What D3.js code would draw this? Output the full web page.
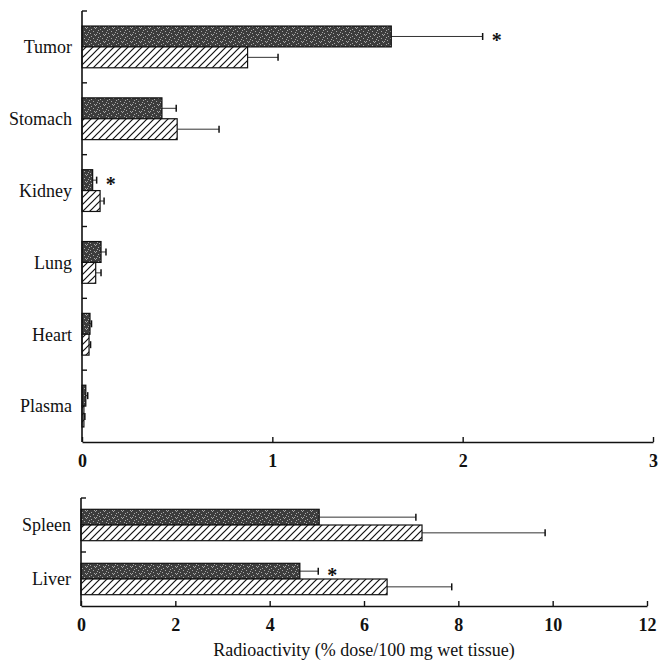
<!DOCTYPE html>
<html>
<head>
<meta charset="utf-8">
<script src="https://cdn.jsdelivr.net/npm/d3@7"></script>
<style>
    body { margin: 0; background: #fff; }
    svg { display: block; }
    text { font-family: "Liberation Serif", "DejaVu Serif", serif; fill: #111; }
</style>
</head>
<body>
<svg id="graphique" width="671" height="663"></svg>
<script>
"use strict";

// panneau du haut (echelle 0 - 3)
var organesHaut = ["Tumor", "Stomach", "Kidney", "Lung", "Heart", "Plasma"];
var moyenneSombreHaut = [1.625, 0.42, 0.056, 0.10, 0.042, 0.02];
var ecartSombreHaut = [0.48, 0.075, 0.021, 0.026, 0.008, 0.01];
var moyenneHachureHaut = [0.87, 0.50, 0.095, 0.072, 0.037, 0.01];
var ecartHachureHaut = [0.16, 0.22, 0.021, 0.028, 0.008, 0.005];
var etoileHaut = [true, false, true, false, false, false];
var graduationsHaut = [0, 1, 2, 3];

// panneau du bas (echelle 0 - 12)
var organesBas = ["Spleen", "Liver"];
var moyenneSombreBas = [5.05, 4.64];
var ecartSombreBas = [2.05, 0.39];
var moyenneHachureBas = [7.23, 6.49];
var ecartHachureBas = [2.61, 1.37];
var etoileBas = [false, true];
var graduationsBas = [0, 2, 4, 6, 8, 10, 12];

var titreAxe = "Radioactivity (% dose/100 mg wet tissue)";

var svg = d3.select("#graphique");

// motifs : grisé tacheté et hachures
var defs = svg.append("defs");
var motifSombre = defs.append("pattern").attr("id", "motifSombre")
    .attr("patternUnits", "userSpaceOnUse").attr("width", 9).attr("height", 7);
motifSombre.append("rect").attr("width", 9).attr("height", 7).attr("fill", "#3d3d3d");
[[1, 1], [5, 0], [3, 3], [7, 4], [0, 5], [4, 6], [8, 2], [6, 6]].forEach(function(p) {
    motifSombre.append("rect").attr("x", p[0]).attr("y", p[1])
        .attr("width", 1).attr("height", 1).attr("fill", "#a8a8a8");
});

var motifHachure = defs.append("pattern").attr("id", "motifHachure")
    .attr("patternUnits", "userSpaceOnUse").attr("width", 7).attr("height", 7);
motifHachure.append("rect").attr("width", 7).attr("height", 7).attr("fill", "#fff");
motifHachure.append("path").attr("d", "M-1,1 l2,-2 M0,7 l7,-7 M6,8 l2,-2")
    .attr("stroke", "#111").attr("stroke-width", 1.2);


function dessinerPanneau(config) {
    var x = d3.scaleLinear().domain(config.domaine).range(config.plageX);
    var y = d3.scaleBand().domain(config.organes).range(config.plageY);
    var sousY = d3.scaleBand().domain(["sombre", "hachure"])
        .range([0, y.bandwidth()]).paddingOuter(0.72);

    var g = svg.append("g");

    var series = [
        {cle: "sombre", moyennes: config.sombre, ecarts: config.ecartSombre, motif: "url(#motifSombre)"},
        {cle: "hachure", moyennes: config.hachure, ecarts: config.ecartHachure, motif: "url(#motifHachure)"}
    ];

    series.forEach(function(serie) {
        var donnees = config.organes.map(function(nom, i) {
            return {nom: nom, valeur: serie.moyennes[i], ecart: serie.ecarts[i]};
        });

        // barres d'erreur
        var erreurs = g.append("g").selectAll("g").data(donnees).enter().append("g");
        erreurs.append("line")
            .attr("x1", function(d) { return x(d.valeur); })
            .attr("x2", function(d) { return x(d.valeur + d.ecart); })
            .attr("y1", function(d) { return y(d.nom) + sousY(serie.cle) + sousY.bandwidth() / 2; })
            .attr("y2", function(d) { return y(d.nom) + sousY(serie.cle) + sousY.bandwidth() / 2; })
            .attr("stroke", "#333").attr("stroke-width", 1);
        erreurs.append("line")
            .attr("x1", function(d) { return x(d.valeur + d.ecart); })
            .attr("x2", function(d) { return x(d.valeur + d.ecart); })
            .attr("y1", function(d) { return y(d.nom) + sousY(serie.cle) + sousY.bandwidth() / 2 - 3.5; })
            .attr("y2", function(d) { return y(d.nom) + sousY(serie.cle) + sousY.bandwidth() / 2 + 3.5; })
            .attr("stroke", "#111").attr("stroke-width", 1.5);

        g.append("g").selectAll("rect").data(donnees).enter().append("rect")
            .attr("x", x(0))
            .attr("y", function(d) { return y(d.nom) + sousY(serie.cle); })
            .attr("width", function(d) { return x(d.valeur) - x(0); })
            .attr("height", sousY.bandwidth())
            .attr("fill", serie.motif)
            .attr("stroke", "#111").attr("stroke-width", 1.2);
    });

    // asterisques de significativite, apres la barre d'erreur sombre
    config.organes.forEach(function(nom, i) {
        if (!config.etoiles[i]) return;
        var fin = config.sombre[i] + config.ecartSombre[i];
        g.append("text")
            .attr("x", x(fin) + 14)
            .attr("y", y(nom) + sousY("sombre") + sousY.bandwidth() / 2 + 11)
            .attr("text-anchor", "middle")
            .style("font-size", "20px").style("font-weight", "bold")
            .text("*");
    });

    // axe horizontal, graduations vers l'interieur
    var axeX = d3.axisBottom(x).tickValues(config.graduations).tickFormat(d3.format("d"))
        .tickSizeInner(-5).tickSizeOuter(0).tickPadding(12);
    var gAxeX = g.append("g").attr("transform", "translate(0," + config.plageY[1] + ")").call(axeX);
    gAxeX.select(".domain").attr("stroke", "#111").attr("stroke-width", 1.6);
    gAxeX.selectAll(".tick line").attr("stroke", "#111").attr("stroke-width", 1.4);
    gAxeX.selectAll(".tick text")
        .style("font-family", "'Liberation Serif', serif")
        .style("font-size", "18px").style("font-weight", "bold").attr("fill", "#111");

    // axe vertical
    g.append("line")
        .attr("x1", x(0)).attr("x2", x(0))
        .attr("y1", config.plageY[0]).attr("y2", config.plageY[1])
        .attr("stroke", "#111").attr("stroke-width", 1.6);
    g.append("g").selectAll("line").data(config.organes).enter().append("line")
        .attr("x1", x(0)).attr("x2", x(0) + 5)
        .attr("y1", function(d) { return y(d); })
        .attr("y2", function(d) { return y(d); })
        .attr("stroke", "#111").attr("stroke-width", 1.4);

    g.append("g").selectAll("text").data(config.organes).enter().append("text")
        .attr("x", x(0) - 10)
        .attr("y", function(d) { return y(d) + y.bandwidth() / 2; })
        .attr("dy", "0.35em")
        .attr("text-anchor", "end")
        .style("font-size", "18px")
        .text(function(d) { return d; });

    return x;
}

dessinerPanneau({
    organes: organesHaut,
    sombre: moyenneSombreHaut, ecartSombre: ecartSombreHaut,
    hachure: moyenneHachureHaut, ecartHachure: ecartHachureHaut,
    etoiles: etoileHaut,
    graduations: graduationsHaut,
    domaine: [0, 3], plageX: [82, 653], plageY: [11, 442]
});

var xBas = dessinerPanneau({
    organes: organesBas,
    sombre: moyenneSombreBas, ecartSombre: ecartSombreBas,
    hachure: moyenneHachureBas, ecartHachure: ecartHachureBas,
    etoiles: etoileBas,
    graduations: graduationsBas,
    domaine: [0, 12], plageX: [81, 647], plageY: [498, 606]
});

svg.append("text")
    .attr("x", (xBas(0) + xBas(12)) / 2).attr("y", 656)
    .attr("text-anchor", "middle")
    .style("font-size", "18px")
    .text(titreAxe);
</script>
</body>
</html>
